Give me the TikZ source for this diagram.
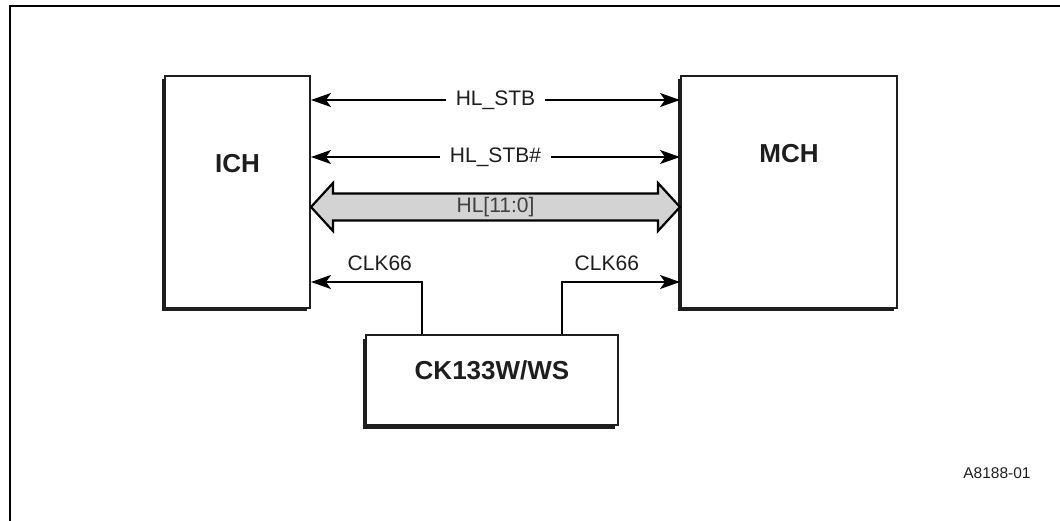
\documentclass[tikz,border=0pt]{standalone}
\usepackage{fontspec}
\setmainfont{Liberation Sans}
\usetikzlibrary{arrows.meta,calc,shadows}
\definecolor{ink}{HTML}{1E1E1E}
\definecolor{busgray}{HTML}{D3D3D3}
\begin{document}
\begin{tikzpicture}[x=1pt,y=-1pt,
  chip/.style={draw=ink,line width=2pt,fill=white,inner sep=0pt,
    general shadow={shadow xshift=-3.5pt,shadow yshift=-3.5pt,fill=ink}},
  chiplabel/.style={font=\fontsize{26}{30}\selectfont\bfseries,text=ink},
  sig/.style={draw=black,line width=2pt},
  tip/.style={-{Stealth[length=20pt,width=14pt,inset=5pt]}},
  dtip/.style={{Stealth[length=20pt,width=14pt,inset=5pt]}-{Stealth[length=20pt,width=14pt,inset=5pt]}},
  siglabel/.style={font=\fontsize{21}{25}\selectfont,text=ink},
  bus/.style={draw=black,line width=2.2pt,fill=busgray,line join=miter},
]
\useasboundingbox (0,0) rectangle (1060,521);
\fill[white] (0,0) rectangle (1060,521);
% frame
\draw[line width=2.3pt] (10,521) -- (10,6) -- (1060,6);

% blocks
\node[chip,minimum width=145pt,minimum height=232pt,
  label={[chiplabel,yshift=28.5pt]center:ICH}] (ICH) at (237.5,192) {};
\node[chip,minimum width=216pt,minimum height=232pt,
  label={[chiplabel,yshift=38pt]center:MCH}] (MCH) at (789,192) {};
\node[chip,minimum width=252pt,minimum height=90pt,
  label={[chiplabel,yshift=10pt]center:CK133W/WS}] (CK) at (492,380) {};

% helper coordinates
\coordinate (yA) at (0,100);
\coordinate (yB) at (0,157);
\coordinate (yC) at (0,207);
\coordinate (yD) at (0,282);
\coordinate (xL) at (422,0);
\coordinate (xR) at (562,0);

% strobes
\draw[sig,dtip] (ICH.east |- yA) -- (MCH.west |- yA)
  node[midway,siglabel,fill=white,inner xsep=10pt,inner ysep=2pt] {HL\_STB};
\draw[sig,dtip] (ICH.east |- yB) -- (MCH.west |- yB)
  node[midway,siglabel,fill=white,inner xsep=10pt,inner ysep=2pt] {HL\_STB\#};

% bus
\draw[bus] (ICH.east |- yC) -- ++(22,-24) -- ++(0,10.5)
  -- ($(MCH.west |- yC)+(-22,-13.5)$) -- ++(0,-10.5) -- (MCH.west |- yC)
  -- ++(-22,24) -- ++(0,-10.5) -- ($(ICH.east |- yC)+(22,13.5)$)
  -- ++(0,10.5) -- cycle;
\node[siglabel,text=black!75] (HLbus) at ($(ICH.east |- yC)!0.5!(MCH.west |- yC)$) {HL[11:0]};

% clocks
\draw[sig,tip] (CK.north -| xL) |- (ICH.east |- yD)
  node[pos=0.69,siglabel,above=6.5pt] {CLK66};
\draw[sig,tip] (CK.north -| xR) |- (MCH.west |- yD)
  node[pos=0.69,siglabel,above=6.5pt] {CLK66};

% figure id
\node[font=\fontsize{15.5}{18}\selectfont,text=ink] (fid) at (997,473) {A8188-01};
\end{tikzpicture}
\end{document}
